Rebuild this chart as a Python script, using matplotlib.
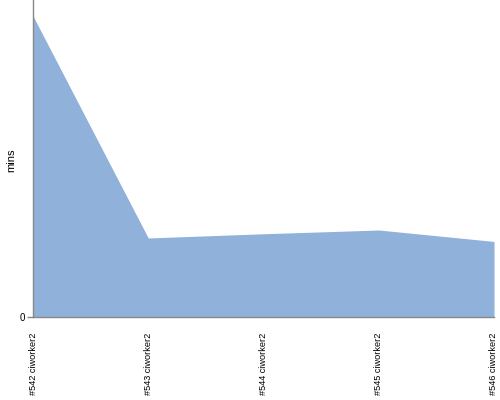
import matplotlib
matplotlib.use("Agg")
import matplotlib.pyplot as plt

builds = ["#542 ciworker2", "#543 ciworker2", "#544 ciworker2", "#545 ciworker2", "#546 ciworker2"]
minutes = [20.0, 5.25, 5.53, 5.78, 5.02]
y_max = 21.06

fig = plt.figure(figsize=(5, 4), dpi=100)
ax = fig.add_axes([33/500, 1 - 317/400, (494-33)/500, 317/400])
x = list(range(len(builds)))
ax.fill_between(x, minutes, 0, color="#8fb1da", linewidth=0)
ax.set_xlim(0, len(builds) - 1)
ax.set_ylim(0, y_max)
ax.set_yticks([0])
ax.set_yticklabels(["0"], fontsize=7, family="Liberation Sans")
ax.set_xticks(x)
ax.set_xticklabels(builds, rotation=90, fontsize=6.6, family="Liberation Sans", va="top", ha="center")
ax.tick_params(axis="x", length=0, pad=11)
ax.tick_params(axis="y", length=4, width=1, color="#888888", pad=2)
for s in ["top", "right"]:
    ax.spines[s].set_visible(False)
for s in ["left", "bottom"]:
    ax.spines[s].set_color("#888888")
    ax.spines[s].set_linewidth(1)
fig.text(11/500, 1 - 160/400, "mins", rotation=90, fontsize=8, family="Liberation Sans",
         ha="center", va="center")
fig.savefig("out.png", dpi=100)
